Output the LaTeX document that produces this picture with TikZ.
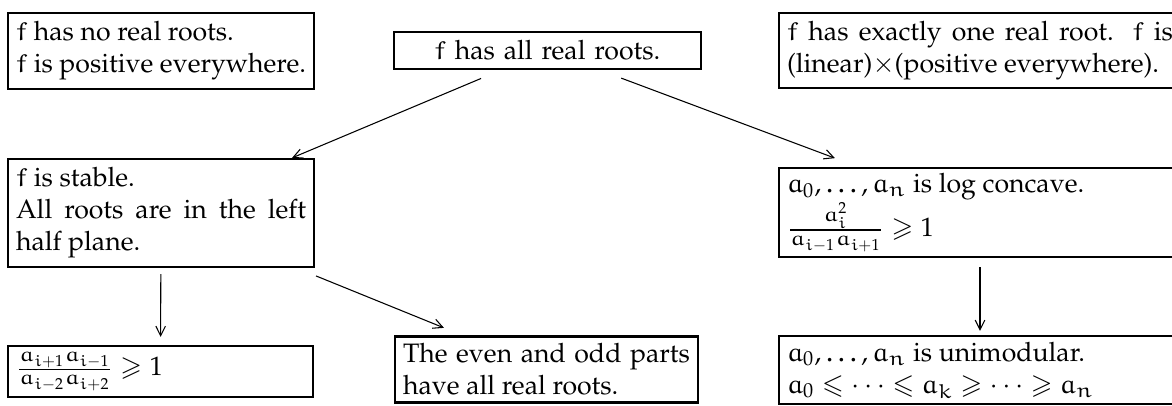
\documentclass[tikz,border=0pt]{standalone}
\usepackage[T1]{fontenc}
\usepackage{mathpazo}
\usepackage{amssymb}
\DeclareSymbolFont{letters}{U}{eur}{m}{n}
\SetSymbolFont{letters}{bold}{U}{eur}{b}{n}
\usetikzlibrary{arrows.meta}
\hyphenpenalty=10000
\tikzset{
  box/.style={draw, line width=0.85pt, inner xsep=3pt, inner ysep=0pt, align=justify},
  arr/.style={-{Straight Barb[length=3.6pt,width=3.6pt]}, line width=0.4pt}
}
\begin{document}
\begin{tikzpicture}[x=0.375pt, y=-0.375pt]
\useasboundingbox (0,0) rectangle (1172,405);
\node[box, text width=108.75pt, minimum height=28.5pt] (A) at (161,51)
  {$f$ has no real roots.\\ $f$ is positive everywhere.};
\node[box, text width=109.1pt, minimum height=13.9pt, align=center] (B) at (547.5,50.5)
  {$f$ has all real roots.};
\node[box, text width=144.75pt, minimum height=28.1pt] (C) at (980,50.5)
  {$f$ has exactly one real root. $f$ is (linear)$\times$(positive everywhere).};
\node[box, text width=108.75pt, minimum height=40.5pt] (D) at (161,213)
  {$f$ is stable.\\ All roots are in the left half plane.};
\node[box, text width=144.75pt, minimum height=33.4pt] (E) at (980,212.5)
  {$a_0,\dots,a_n$ is log concave.\\ $\frac{a_i^2}{a_{i-1}a_{i+1}}\geqslant 1$};
\node[box, text width=108.4pt, minimum height=19.1pt] (F) at (160.5,371.5)
  {$\frac{a_{i+1}a_{i-1}}{a_{i-2}a_{i+2}}\geqslant 1$};
\node[box, text width=107.6pt, minimum height=24.75pt] (G) at (546.5,369.5)
  {The even and odd parts have all real roots.};
\node[box, text width=144.75pt, minimum height=25.5pt] (H) at (980,370)
  {$a_0,\dots,a_n$ is unimodular.\\ $a_0\leqslant\cdots\leqslant a_k\geqslant\cdots\geqslant a_n$};
\draw[arr, shorten <=8pt] (B) -- (D);
\draw[arr, shorten <=8.5pt, shorten >=9.3pt] (B) -- (E);
\draw[arr, shorten <=2.25pt, shorten >=3.0pt] (D) -- (F);
\draw[arr, shorten <=7.8pt, shorten >=7.5pt] (D) -- (G);
\draw[arr, shorten <=3.4pt, shorten >=1.5pt] (E) -- (H);
\end{tikzpicture}
\end{document}
